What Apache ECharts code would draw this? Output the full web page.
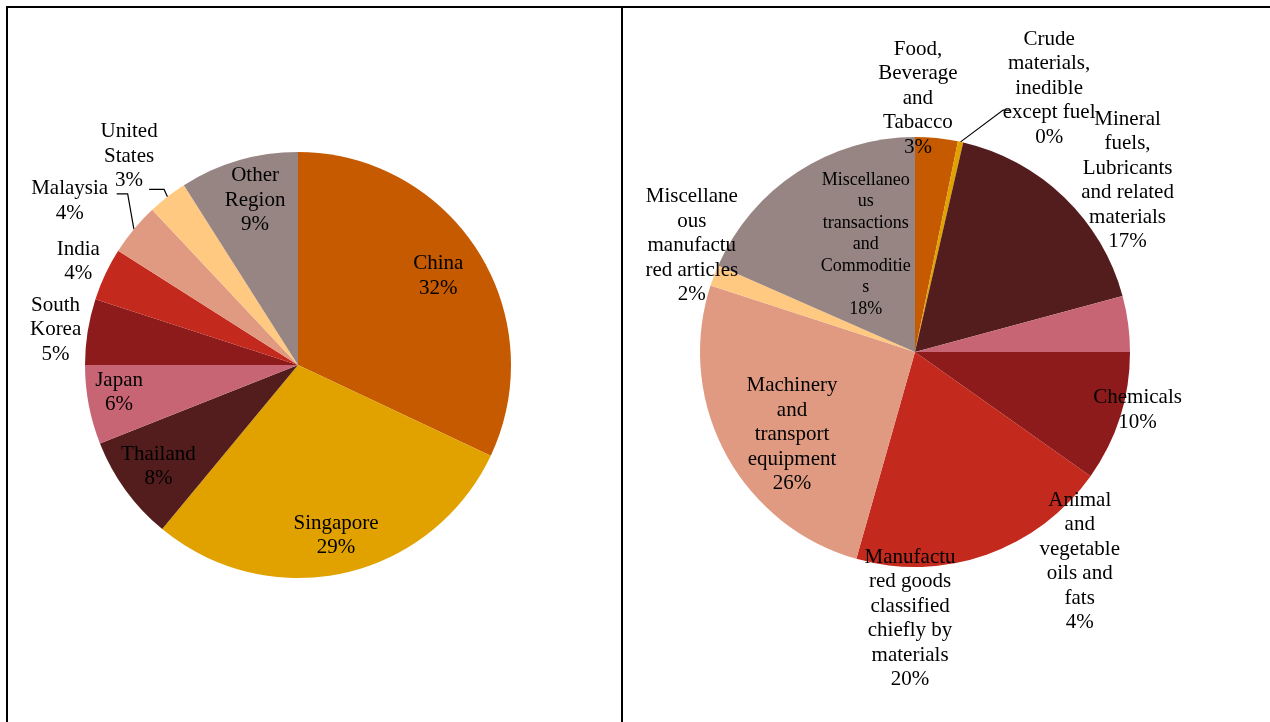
<!DOCTYPE html>
<html>
<head>
<meta charset="utf-8">
<title>Export shares by destination and by product group</title>
<script src="https://cdn.jsdelivr.net/npm/echarts@6/dist/echarts.min.js"></script>
<style>
  html, body { margin: 0; padding: 0; background: #ffffff; }
  #chart { width: 1270px; height: 722px; }
</style>
</head>
<body>
<div id="chart"></div>
<script>
// Destinations (shares in %)
const regionNames = ['China', 'Singapore', 'Thailand', 'Japan', 'South\nKorea', 'India', 'Malaysia', 'United\nStates', 'Other\nRegion'];
const regionShares = [32, 29, 8, 6, 5, 4, 4, 3, 9];
const regionColors = ['#C55A00', '#E1A200', '#521D1C', '#C76574', '#8E1B1B', '#C3291C', '#E19A82', '#FFC982', '#978583'];

// Product groups (shares in %)
const productNames = [
  'Food,\nBeverage\nand\nTabacco',
  'Crude\nmaterials,\ninedible\nexcept fuel',
  'Mineral\nfuels,\nLubricants\nand related\nmaterials',
  'Animal\nand\nvegetable\noils and\nfats',
  'Chemicals',
  'Manufactu\nred goods\nclassified\nchiefly by\nmaterials',
  'Machinery\nand\ntransport\nequipment',
  'Miscellane\nous\nmanufactu\nred articles',
  'Miscellaneo\nus\ntransactions\nand\nCommoditie\ns'
];
const productShares = [3.2, 0.4, 17.2, 4.2, 9.8, 19.6, 25.6, 1.6, 18.4];
const productColors = ['#C55A00', '#E1A200', '#521D1C', '#C76574', '#8E1B1B', '#C3291C', '#E19A82', '#FFC982', '#978583'];

// Pie geometry
const pies = [
  { center: [298, 365], radius: 213 },
  { center: [915, 352], radius: 215 }
];

// Label placement per slice: [radius factor, angle offset from slice middle (deg)]
const labelPlacement = [
  [[0.78, 0], [0.82, 0], [0.81, 0], [0.85, 2], [1.15, -0.7], [1.14, 0], [1.32, -3.9], [1.26, -1.2], [0.8, 1.6]],
  [[1.18, -5.1], [1.377, 14.7], [1.27, 7.2], [1.24, 59.4], [1.07, -3.0], [1.24, 20.5], [0.69, -5.9], [1.15, 4.6], [0.55, 8.5]]
];

// Leader lines: label end point and elbow, relative to label centre
const leaderLines = [
  { 6: [[47, -7], [58, -7]], 7: [[20, 33], [35, 33]] },
  { 1: [[-39, 22], [-46, 22]] }
];

function midAngles(values) {
  const total = values.reduce((a, b) => a + b, 0);
  let cum = 0;
  return values.map(v => {
    const mid = (cum + v / 2) / total * 360;
    cum += v;
    return mid;
  });
}
const mids = [midAngles(regionShares), midAngles(productShares)];

function polar(s, r, deg) {
  const a = deg * Math.PI / 180;
  const c = pies[s].center;
  return [c[0] + r * Math.sin(a), c[1] - r * Math.cos(a)];
}

function buildData(names, values, colors, s) {
  return names.map((n, i) => {
    const hasLeader = leaderLines[s][i] !== undefined;
    const item = {
      name: n,
      value: values[i],
      itemStyle: { color: colors[i] },
      label: { position: hasLeader ? 'outside' : 'inside' },
      labelLine: { show: hasLeader }
    };
    if (s === 1 && i === 8) {
      item.label.fontSize = 18;
      item.label.lineHeight = 21.5;
    }
    return item;
  });
}

const labelStyle = {
  show: true,
  color: '#000000',
  fontFamily: '"Liberation Serif", "Times New Roman", serif',
  fontSize: 21,
  lineHeight: 24.5,
  align: 'center',
  formatter: p => p.name + '\n' + Math.round(p.value) + '%'
};

function makeLayout(s) {
  return function (params) {
    const i = params.dataIndex;
    const pl = labelPlacement[s][i];
    const R = pies[s].radius;
    const pos = polar(s, R * pl[0], mids[s][i] + pl[1]);
    const out = { x: pos[0], y: pos[1], align: 'center', verticalAlign: 'middle' };
    const ll = leaderLines[s][i];
    if (ll) {
      const edge = polar(s, R, mids[s][i]);
      out.labelLinePoints = [
        edge,
        [pos[0] + ll[1][0], pos[1] + ll[1][1]],
        [pos[0] + ll[0][0], pos[1] + ll[0][1]]
      ];
    }
    return out;
  };
}

function pieSeries(names, values, colors, s) {
  return {
    type: 'pie',
    center: pies[s].center,
    radius: pies[s].radius,
    startAngle: 90,
    clockwise: true,
    avoidLabelOverlap: false,
    minAngle: 0,
    data: buildData(names, values, colors, s),
    itemStyle: { borderWidth: 0 },
    label: labelStyle,
    labelLine: { show: false, lineStyle: { color: '#000000', width: 1.2 }, length: 10, length2: 10 },
    labelLayout: makeLayout(s),
    emphasis: { disabled: true },
    silent: true
  };
}

const chart = echarts.init(document.getElementById('chart'), null, { renderer: 'canvas' });
chart.setOption({
  animation: false,
  backgroundColor: '#ffffff',
  graphic: [
    { type: 'rect', shape: { x: 6, y: 6, width: 1264, height: 2 }, style: { fill: '#000000' }, silent: true },
    { type: 'rect', shape: { x: 6, y: 6, width: 2, height: 716 }, style: { fill: '#000000' }, silent: true },
    { type: 'rect', shape: { x: 621, y: 6, width: 2, height: 716 }, style: { fill: '#000000' }, silent: true }
  ],
  series: [
    pieSeries(regionNames, regionShares, regionColors, 0),
    pieSeries(productNames, productShares, productColors, 1)
  ]
});
</script>
</body>
</html>
